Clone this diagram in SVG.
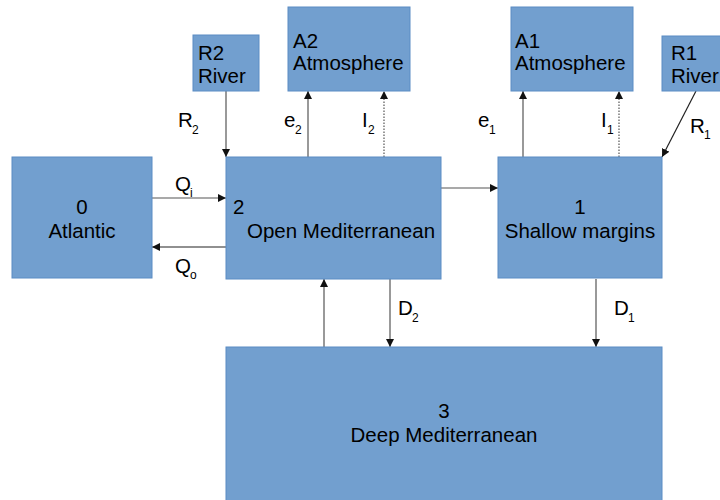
<svg xmlns="http://www.w3.org/2000/svg" width="720" height="500" viewBox="0 0 720 500">
<style>
.box{fill:#729fcf;stroke:#5b8cc4;stroke-width:1}
.t{font-family:"Liberation Sans",Arial,sans-serif;font-size:20.5px;fill:#000}
.s{font-family:"Liberation Sans",Arial,sans-serif;font-size:12px;fill:#000}
.ln{stroke:#555;stroke-width:1.2;fill:none}
.dk{stroke:#222;stroke-width:1.2;fill:none}
.dot{stroke:#555;stroke-width:1.2;fill:none;stroke-dasharray:1.5,1.5}
</style>
<defs>
<marker id="ah" viewBox="0 0 10 10" refX="10" refY="5" markerWidth="8" markerHeight="8" markerUnits="userSpaceOnUse" orient="auto">
<path d="M0,0 L10,5 L0,10 z" fill="#111"/>
</marker>
</defs>
<rect width="720" height="500" fill="#fff"/>
<g id="connectors">
<line class="ln" x1="226" y1="91" x2="226" y2="157" marker-end="url(#ah)"/>
<line class="ln" x1="308" y1="157" x2="308" y2="91" marker-end="url(#ah)"/>
<line class="dot" x1="384" y1="157" x2="384" y2="91" marker-end="url(#ah)"/>
<line class="ln" x1="523" y1="157" x2="523" y2="91" marker-end="url(#ah)"/>
<line class="dot" x1="619" y1="157" x2="619" y2="91" marker-end="url(#ah)"/>
<line class="dk" x1="696" y1="91" x2="662" y2="157" marker-end="url(#ah)"/>
<line class="ln" x1="152" y1="198" x2="226" y2="198" marker-end="url(#ah)"/>
<line class="dk" x1="226" y1="247" x2="152" y2="247" marker-end="url(#ah)"/>
<line class="ln" x1="441" y1="188" x2="498" y2="188" marker-end="url(#ah)"/>
<line class="ln" x1="324" y1="347" x2="324" y2="279" marker-end="url(#ah)"/>
<line class="ln" x1="390" y1="279" x2="390" y2="347" marker-end="url(#ah)"/>
<line class="ln" x1="596" y1="279" x2="596" y2="347" marker-end="url(#ah)"/>
<text class="t" x="178" y="127">R</text><text class="s" x="192" y="134">2</text>
<text class="t" x="284" y="127">e</text><text class="s" x="295" y="134">2</text>
<text class="t" x="362" y="127">I</text><text class="s" x="368" y="134">2</text>
<text class="t" x="478" y="127">e</text><text class="s" x="489" y="134">1</text>
<text class="t" x="601" y="127">I</text><text class="s" x="607" y="134">1</text>
<text class="t" x="690" y="133">R</text><text class="s" x="704" y="139">1</text>
<text class="t" x="175" y="191">Q</text><text class="s" x="190" y="197">i</text>
<text class="t" x="175" y="273">Q</text><text class="s" x="190" y="279">o</text>
<text class="t" x="398" y="315">D</text><text class="s" x="412" y="322">2</text>
<text class="t" x="614" y="315">D</text><text class="s" x="628" y="322">1</text>
</g>
<g id="atlantic">
<rect class="box" x="12" y="157" width="140" height="121"/>
<text class="t" x="82" y="214" text-anchor="middle">0</text>
<text class="t" x="82" y="238" text-anchor="middle">Atlantic</text>
</g>
<g id="open-med">
<rect class="box" x="226" y="157" width="215" height="122"/>
<text class="t" x="233" y="214">2</text>
<text class="t" x="247" y="238">Open Mediterranean</text>
</g>
<g id="shallow">
<rect class="box" x="498" y="157" width="164" height="121"/>
<text class="t" x="580" y="214" text-anchor="middle">1</text>
<text class="t" x="580" y="238" text-anchor="middle">Shallow margins</text>
</g>
<g id="deep">
<rect class="box" x="226" y="347" width="436" height="160"/>
<text class="t" x="444" y="418" text-anchor="middle">3</text>
<text class="t" x="444" y="442" text-anchor="middle">Deep Mediterranean</text>
</g>
<g id="r2">
<rect class="box" x="193" y="35" width="66" height="56"/>
<text class="t" x="198" y="60">R2</text>
<text class="t" x="198" y="83">River</text>
</g>
<g id="a2">
<rect class="box" x="288" y="7" width="122" height="84"/>
<text class="t" x="293" y="48">A2</text>
<text class="t" x="293" y="70">Atmosphere</text>
</g>
<g id="a1">
<rect class="box" x="511" y="7" width="122" height="84"/>
<text class="t" x="515" y="48">A1</text>
<text class="t" x="515" y="70">Atmosphere</text>
</g>
<g id="r1">
<rect class="box" x="662" y="36" width="66" height="55"/>
<text class="t" x="671" y="60">R1</text>
<text class="t" x="671" y="83">River</text>
</g>
</svg>
